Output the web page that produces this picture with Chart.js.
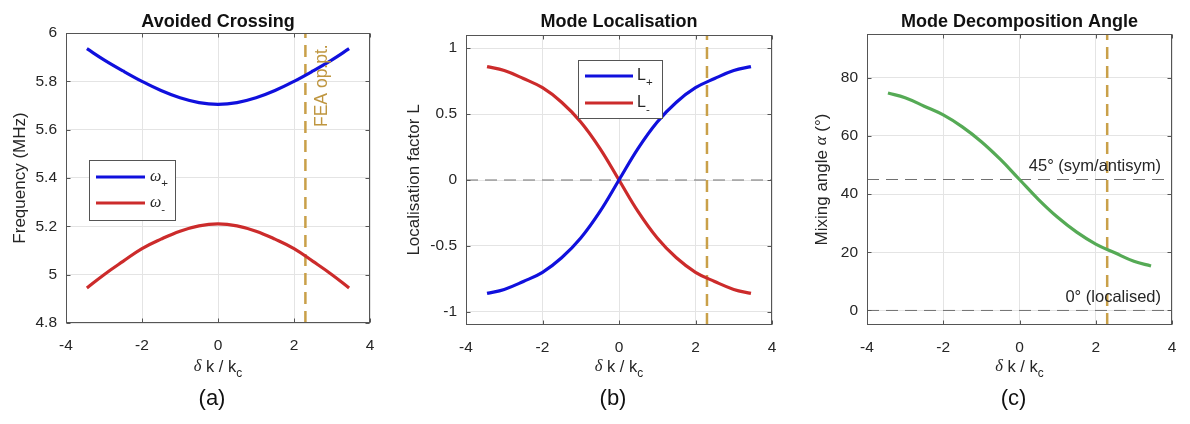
<!DOCTYPE html>
<html>
<head>
<meta charset="utf-8">
<script src="https://cdn.jsdelivr.net/npm/chart.js@4.4.1/dist/chart.umd.min.js"></script>
<style>
  html, body { margin: 0; padding: 0; background: #fff; }
  #wrap { position: relative; width: 1190px; height: 424px; }
  .panel { position: absolute; top: 0; height: 424px; }
</style>
</head>
<body>
<div id="wrap">
  <div class="panel" style="left:0;width:395px"><canvas id="chartA"></canvas></div>
  <div class="panel" style="left:395px;width:395px"><canvas id="chartB"></canvas></div>
  <div class="panel" style="left:790px;width:400px"><canvas id="chartC"></canvas></div>
</div>
<script>
// data
const kValues = [-3.45, -3, -2.5, -2, -1.5, -1, -0.5, 0, 0.5, 1, 1.5, 2, 2.5, 3, 3.45];
const omegaPlus = [5.935, 5.889, 5.843, 5.800, 5.762, 5.732, 5.712, 5.705, 5.712, 5.732, 5.762, 5.800, 5.843, 5.889, 5.935];
const omegaMinus = [4.945, 5.000, 5.055, 5.108, 5.147, 5.180, 5.202, 5.210, 5.202, 5.180, 5.147, 5.108, 5.055, 5.000, 4.945];
const locPlus = [-0.86, -0.83, -0.77, -0.70, -0.59, -0.44, -0.24, 0, 0.24, 0.44, 0.59, 0.70, 0.77, 0.83, 0.86];
const locMinus = [0.86, 0.83, 0.77, 0.70, 0.59, 0.44, 0.24, 0, -0.24, -0.44, -0.59, -0.70, -0.77, -0.83, -0.86];
const mixAngle = [74.7, 73.1, 70.2, 67.2, 63.1, 58.0, 51.9, 45, 38.1, 32.0, 26.9, 22.8, 19.8, 16.9, 15.3];
const feaPoint = 2.3;

const xTicks = [-4, -2, 0, 2, 4];
const freqTicks = [4.8, 5, 5.2, 5.4, 5.6, 5.8, 6];
const locTicks = [-1, -0.5, 0, 0.5, 1];
const angleTicks = [0, 20, 40, 60, 80];
const xRange = [-4, 4];
const freqRange = [4.8, 6];
const locRange = [-1.1, 1.1];
const angleRange = [-5, 95];
const locRefLevels = [0];
const angleRefLevels = [45, 0];

const SANS = "'Liberation Sans', Arial, sans-serif";
const SERIF = "'Liberation Serif', 'Times New Roman', serif";
const TEXT = '#262626';
const AXIS = '#555';
const BLUE = '#1010dd';
const RED = '#cc2b2b';
const GREEN = '#55aa55';
const GOLD = '#c9a049';
const DASH_GRAY = '#707070';

function pts(xs, ys) {
    return xs.map((x, i) => ({ x: x, y: ys[i] }));
}

function curve(data, color) {
    return { data: data, borderColor: color, borderWidth: 3.2, pointRadius: 0,
             tension: 0.4, order: 1 };
}

function refLine(data, color, width) {
    return { data: data, borderColor: color, borderWidth: width, pointRadius: 0,
             tension: 0, borderDash: [12, 7], order: 2 };
}

// draw a row of text pieces with mixed fonts and subscripts
function drawRuns(ctx, runs, x, y, size, align) {
    let total = 0;
    const items = runs.map(r => {
        const s = r.sub ? size * 0.72 : size;
        const font = (r.italic ? 'italic ' : '') + s + 'px ' + (r.serif ? SERIF : SANS);
        ctx.font = font;
        const w = ctx.measureText(r.t).width;
        total += w;
        return { t: r.t, font: font, w: w, sub: r.sub };
    });
    let cx = align === 'center' ? x - total / 2 : (align === 'right' ? x - total : x);
    ctx.textAlign = 'left';
    ctx.textBaseline = 'middle';
    items.forEach(it => {
        ctx.font = it.font;
        ctx.fillText(it.t, cx, y + (it.sub ? size * 0.42 : 0));
        cx += it.w;
    });
}

const xLabelRuns = [{ t: 'δ', serif: true, italic: true }, { t: ' k / k' }, { t: 'c', sub: true }];

const panelDeco = {
    id: 'panelDeco',
    afterDraw(chart, args, o) {
        const ctx = chart.ctx, a = chart.chartArea;
        const xs = chart.scales.x, ys = chart.scales.y;
        ctx.save();

        // box and inward tick marks
        const L = Math.round(a.left) + 0.5, R = Math.round(a.right) - 0.5;
        const T = Math.round(a.top) + 0.5, B = Math.round(a.bottom) - 0.5;
        ctx.strokeStyle = AXIS;
        ctx.lineWidth = 1;
        ctx.strokeRect(L, T, R - L, B - T);
        ctx.beginPath();
        xs.ticks.forEach(t => {
            const p = Math.round(xs.getPixelForValue(t.value)) + 0.5;
            ctx.moveTo(p, B); ctx.lineTo(p, B - 4);
            ctx.moveTo(p, T); ctx.lineTo(p, T + 4);
        });
        ys.ticks.forEach(t => {
            const p = Math.round(ys.getPixelForValue(t.value)) + 0.5;
            ctx.moveTo(L, p); ctx.lineTo(L + 4, p);
            ctx.moveTo(R, p); ctx.lineTo(R - 4, p);
        });
        ctx.stroke();

        const cx = (a.left + a.right) / 2;
        ctx.fillStyle = '#111';
        ctx.font = 'bold 18px ' + SANS;
        ctx.textAlign = 'center';
        ctx.textBaseline = 'middle';
        ctx.fillText(o.title, cx, 22);

        ctx.fillStyle = TEXT;
        drawRuns(ctx, xLabelRuns, cx, 367, 16.5, 'center');
        ctx.fillStyle = '#111';
        ctx.font = '22px ' + SANS;
        ctx.textAlign = 'center';
        ctx.fillText(o.letter, cx - 6, 399);

        ctx.save();
        ctx.fillStyle = TEXT;
        ctx.translate(o.yLabelX, (a.top + a.bottom) / 2);
        ctx.rotate(-Math.PI / 2);
        drawRuns(ctx, o.yLabel, 0, 0, 17, 'center');
        ctx.restore();

        if (o.legend) {
            const lg = o.legend;
            const bx = a.left + lg.left, by = a.top + lg.top;
            ctx.fillStyle = '#fff';
            ctx.fillRect(bx, by, lg.w, lg.h);
            ctx.strokeStyle = AXIS;
            ctx.lineWidth = 1;
            ctx.strokeRect(Math.round(bx) + 0.5, Math.round(by) + 0.5, lg.w, lg.h);
            lg.rows.forEach(row => {
                const ds = chart.data.datasets[row.ds];
                ctx.strokeStyle = ds.borderColor;
                ctx.lineWidth = 3;
                ctx.beginPath();
                ctx.moveTo(bx + lg.lineX0, by + row.y);
                ctx.lineTo(bx + lg.lineX1, by + row.y);
                ctx.stroke();
                ctx.fillStyle = TEXT;
                drawRuns(ctx, row.runs, bx + lg.textX, by + row.y, 16, 'left');
            });
        }

        (o.notes || []).forEach(n => {
            ctx.save();
            ctx.fillStyle = n.color || TEXT;
            ctx.translate(xs.getPixelForValue(n.xv) + n.dx, ys.getPixelForValue(n.yv) + n.dy);
            if (n.rotate) ctx.rotate(-Math.PI / 2);
            drawRuns(ctx, n.runs, 0, 0, n.size || 16.5, n.align);
            ctx.restore();
        });

        ctx.restore();
    }
};

function makePanel(id, datasets, yTicks, yRange, box, deco) {
    const ctx = document.getElementById(id).getContext('2d');
    return new Chart(ctx, {
        type: 'line',
        data: { datasets: datasets },
        plugins: [panelDeco],
        options: {
            responsive: true,
            maintainAspectRatio: false,
            animation: false,
            layout: { padding: { left: 0, right: box.right, top: box.top, bottom: box.bottom } },
            plugins: {
                legend: { display: false },
                tooltip: { enabled: false },
                panelDeco: deco
            },
            scales: {
                x: {
                    type: 'linear',
                    min: xRange[0], max: xRange[1],
                    afterBuildTicks: s => { s.ticks = xTicks.map(v => ({ value: v })); },
                    afterFit: s => { s.height = 40; s.paddingLeft = 0; s.paddingRight = 0; },
                    ticks: { color: TEXT, font: { family: SANS, size: 15.5 }, padding: 13,
                             maxRotation: 0, callback: v => String(v) },
                    grid: { color: '#e4e4e4', drawTicks: false },
                    border: { display: false }
                },
                y: {
                    type: 'linear',
                    min: yRange[0], max: yRange[1],
                    afterBuildTicks: s => { s.ticks = yTicks.map(v => ({ value: v })); },
                    afterFit: s => { s.width = box.yWidth; s.paddingTop = 0; s.paddingBottom = 0; },
                    ticks: { color: TEXT, font: { family: SANS, size: 15.5 }, padding: 9,
                             callback: v => String(v) },
                    grid: { color: '#e4e4e4', drawTicks: false },
                    border: { display: false }
                }
            }
        }
    });
}

// (a) avoided crossing
makePanel('chartA', [
    curve(pts(kValues, omegaPlus), BLUE),
    curve(pts(kValues, omegaMinus), RED),
    refLine(pts([feaPoint, feaPoint], freqRange), GOLD, 2.5)
], freqTicks, freqRange, { right: 25, top: 33, bottom: 61, yWidth: 66 }, {
    title: 'Avoided Crossing', letter: '(a)', yLabelX: 20,
    yLabel: [{ t: 'Frequency (MHz)' }],
    legend: { left: 23, top: 127, w: 86, h: 60, lineX0: 7, lineX1: 56, textX: 61,
              rows: [{ ds: 0, y: 17, runs: [{ t: 'ω', serif: true, italic: true }, { t: '+', sub: true }] },
                     { ds: 1, y: 43, runs: [{ t: 'ω', serif: true, italic: true }, { t: '-', sub: true }] }] },
    notes: [{ runs: [{ t: 'FEA op.pt.' }], xv: feaPoint, yv: freqRange[1], dx: 17, dy: 94,
              align: 'left', rotate: true, color: '#bf9640', size: 17.5 }]
});

// (b) mode localisation
makePanel('chartB', [
    curve(pts(kValues, locPlus), BLUE),
    curve(pts(kValues, locMinus), RED),
    refLine(pts([feaPoint, feaPoint], locRange), GOLD, 2.5),
    refLine(pts(xRange, [locRefLevels[0], locRefLevels[0]]), DASH_GRAY, 1)
], locTicks, locRange, { right: 18, top: 35, bottom: 59, yWidth: 71 }, {
    title: 'Mode Localisation', letter: '(b)', yLabelX: 19,
    yLabel: [{ t: 'Localisation factor L' }],
    legend: { left: 112, top: 25, w: 84, h: 58, lineX0: 7, lineX1: 55, textX: 59,
              rows: [{ ds: 0, y: 16, runs: [{ t: 'L' }, { t: '+', sub: true }] },
                     { ds: 1, y: 43, runs: [{ t: 'L' }, { t: '-', sub: true }] }] }
});

// (c) mixing angle
makePanel('chartC', [
    curve(pts(kValues, mixAngle), GREEN),
    refLine(pts([feaPoint, feaPoint], angleRange), GOLD, 2.5),
    refLine(pts(xRange, [angleRefLevels[0], angleRefLevels[0]]), DASH_GRAY, 1),
    refLine(pts(xRange, [angleRefLevels[1], angleRefLevels[1]]), DASH_GRAY, 1)
], angleTicks, angleRange, { right: 18, top: 34, bottom: 59, yWidth: 77 }, {
    title: 'Mode Decomposition Angle', letter: '(c)', yLabelX: 32,
    yLabel: [{ t: 'Mixing angle ' }, { t: 'α', serif: true, italic: true }, { t: ' (°)' }],
    notes: [{ runs: [{ t: '45° (sym/antisym)' }], xv: xRange[1], yv: angleRefLevels[0], dx: -11, dy: -13, align: 'right' },
            { runs: [{ t: '0° (localised)' }], xv: xRange[1], yv: angleRefLevels[1], dx: -11, dy: -13, align: 'right' }]
});
</script>
</body>
</html>
